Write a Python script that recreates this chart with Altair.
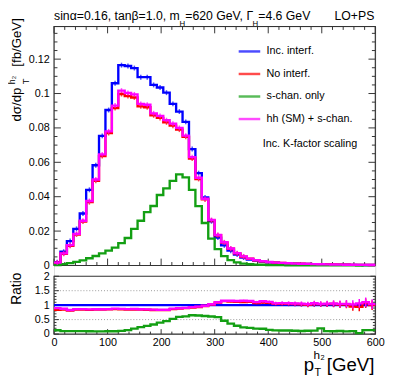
import altair as alt
import pandas as pd

# ---------------- data ----------------
BIN_WIDTH = 12
N_BINS = 50
edges = [i * BIN_WIDTH for i in range(N_BINS + 1)]
centers = [e + BIN_WIDTH / 2 for e in edges[:-1]]

series_names = ["Inc. interf.", "No interf.", "s-chan. only", "hh (SM) + s-chan."]
series_colors = ["#0000ff", "#ff0000", "#139f13", "#ff00ff"]

inc_interf = [0.0019, 0.0080, 0.0142, 0.0213, 0.0302, 0.0440, 0.0583, 0.0754, 0.0904, 0.1060,
              0.1165, 0.1160, 0.1148, 0.1095, 0.1095, 0.1050, 0.1035, 0.1005, 0.0940, 0.0895,
              0.0835, 0.0677, 0.0537, 0.0396, 0.0257, 0.0162, 0.0117, 0.0086, 0.0063, 0.0046,
              0.0035, 0.0028, 0.0022, 0.0018, 0.0016, 0.0014, 0.00122, 0.00104, 0.00095, 0.00087,
              0.00075, 0.00067, 0.00059, 0.00052, 0.00048, 0.00043, 0.00039, 0.00034, 0.00029, 0.00029]

no_interf = [0.0016, 0.0068, 0.0115, 0.0180, 0.0255, 0.0368, 0.0492, 0.0636, 0.0770, 0.0915,
             0.0997, 0.0985, 0.0977, 0.0925, 0.0920, 0.0873, 0.0858, 0.0832, 0.0813, 0.0790,
             0.0748, 0.0622, 0.0503, 0.0384, 0.0262, 0.0176, 0.0133, 0.0097, 0.0070, 0.0051,
             0.0039, 0.0030, 0.0024, 0.00195, 0.00167, 0.00147, 0.00128, 0.00108, 0.00098, 0.00088,
             0.00078, 0.00069, 0.00061, 0.00054, 0.00049, 0.00044, 0.00037, 0.00032, 0.00031, 0.00029]

s_chan_only = [0.00025, 0.0008, 0.0014, 0.0021, 0.0030, 0.0042, 0.0055, 0.0070, 0.0086, 0.0104,
               0.0130, 0.0160, 0.0213, 0.0260, 0.0310, 0.0346, 0.0410, 0.0448, 0.0492, 0.0530,
               0.0512, 0.0440, 0.0345, 0.0247, 0.0156, 0.0095, 0.0054, 0.0031, 0.0018, 0.00106,
               0.00074, 0.00052, 0.0004, 0.00026, 0.0002, 0.00017, 0.00015, 0.00012, 0.0001, 0.0001,
               0.00009, 0.00013, 0.00006, 0.00005, 0.00005, 0.00004, 0.00004, 0.00001, 0.00004, 0.00004]

hh_sm_s_chan = [0.0017, 0.0070, 0.0118, 0.0184, 0.0260, 0.0375, 0.0500, 0.0646, 0.0780, 0.0930,
                0.1017, 0.1003, 0.0995, 0.0940, 0.0935, 0.0885, 0.0870, 0.0845, 0.0825, 0.0800,
                0.0755, 0.0630, 0.0510, 0.0388, 0.0265, 0.0178, 0.0135, 0.0099, 0.0072, 0.0053,
                0.0040, 0.0031, 0.0025, 0.0020, 0.0017, 0.0015, 0.0013, 0.0011, 0.0010, 0.0009,
                0.0008, 0.0007, 0.00062, 0.00055, 0.0005, 0.00045, 0.0004, 0.00036, 0.00032, 0.0003]

ratio_err_inc = [0.02, 0.01, 0.01, 0.01, 0.01, 0.01, 0.01, 0.01, 0.01, 0.01,
                 0.01, 0.01, 0.01, 0.01, 0.01, 0.01, 0.01, 0.01, 0.01, 0.01,
                 0.01, 0.01, 0.01, 0.01, 0.01, 0.012, 0.014, 0.016, 0.018, 0.02,
                 0.022, 0.024, 0.026, 0.028, 0.03, 0.032, 0.035, 0.038, 0.04, 0.043,
                 0.046, 0.05, 0.054, 0.058, 0.062, 0.066, 0.07, 0.075, 0.08, 0.085]
ratio_err_hh = [0.03, 0.02, 0.02, 0.015, 0.01, 0.01, 0.01, 0.01, 0.01, 0.01,
                0.01, 0.01, 0.01, 0.01, 0.01, 0.01, 0.01, 0.01, 0.01, 0.01,
                0.01, 0.012, 0.014, 0.016, 0.02, 0.022, 0.025, 0.028, 0.03, 0.033,
                0.036, 0.04, 0.045, 0.05, 0.055, 0.06, 0.065, 0.07, 0.075, 0.08,
                0.085, 0.09, 0.1, 0.11, 0.12, 0.13, 0.14, 0.15, 0.16, 0.17]

x_major = [0, 100, 200, 300, 400, 500, 600]
x_minor = [v for v in range(0, 601, 20) if v % 100 != 0]
y_main_major = [0, 0.02, 0.04, 0.06, 0.08, 0.1, 0.12]
y_main_minor = [round(0.005 * i, 3) for i in range(1, 28) if i % 4 != 0]
y_ratio_major = [0, 0.5, 1, 1.5, 2]
y_ratio_minor = [round(0.1 * i, 1) for i in range(1, 20) if i % 5 != 0]
ratio_grid = [0.5, 1.0, 1.5]

# ---------------- layout constants ----------------
W = 328
H = 314
Y_MAX = 0.139
FONT = "Liberation Sans"
FRAME = "#333333"

xs = alt.Scale(domain=[0, 600], nice=False, zero=False)
ys_main = alt.Scale(domain=[0, Y_MAX], range=[244, 0], nice=False, zero=False)
ys_ratio = alt.Scale(domain=[0, 2], range=[314, 255], nice=False, zero=False)

all_series = [inc_interf, no_interf, s_chan_only, hh_sm_s_chan]

rows = []
for name, vals in zip(series_names, all_series):
    for i, v in enumerate(vals):
        rows.append({"series": name, "x": edges[i], "y": v, "r": v / inc_interf[i]})
    rows.append({"series": name, "x": edges[-1], "y": vals[-1], "r": vals[-1] / inc_interf[-1]})
hist = pd.DataFrame(rows)

erows = []
for name, vals in zip(series_names, all_series):
    if name == "s-chan. only":
        continue
    for i, v in enumerate(vals):
        r = v / inc_interf[i]
        e = ratio_err_inc[i] if name == "Inc. interf." else ratio_err_hh[i]
        erows.append({"series": name, "c": centers[i], "y": v, "r": r, "lo": r - e, "hi": r + e})
errs = pd.DataFrame(erows)

color_scale = alt.Scale(domain=series_names, range=series_colors)
LEG = alt.Legend(orient="none", legendX=187, legendY=13, title=None, symbolType="stroke",
                 symbolSize=484, symbolStrokeWidth=2.5, labelFontSize=11, labelFont=FONT,
                 labelOffset=5, rowPadding=5, padding=0, labelColor="black")
color = alt.Color("series:N", scale=color_scale, legend=LEG)

layers = []

# frames
frame_df = pd.DataFrame({"a": [0]})
layers.append(alt.Chart(frame_df).mark_rect(fillOpacity=0, stroke=FRAME, strokeWidth=1.2).encode(
    x=alt.XDatum(0, scale=xs, axis=None), x2=alt.X2Datum(600),
    y=alt.YDatum(0, scale=ys_main, axis=None), y2=alt.Y2Datum(Y_MAX)))
layers.append(alt.Chart(frame_df).mark_rect(fillOpacity=0, stroke=FRAME, strokeWidth=1.2).encode(
    x=alt.XDatum(0, scale=xs, axis=None), x2=alt.X2Datum(600),
    y=alt.YDatum(0, scale=ys_ratio, axis=None), y2=alt.Y2Datum(2)))

# ratio grid
layers.append(alt.Chart(pd.DataFrame({"g": ratio_grid})).mark_rule(
    color="#9a9a9a", strokeDash=[1, 2], strokeWidth=1).encode(
    x=alt.XDatum(0, scale=xs, axis=None), x2=alt.X2Datum(600),
    y=alt.Y("g:Q", scale=ys_ratio, axis=None)))


def xticks(vals, yscale, ydatum, off):
    return alt.Chart(pd.DataFrame({"v": vals})).mark_rule(
        color=FRAME, strokeWidth=1, y2Offset=off).encode(
        x=alt.X("v:Q", scale=xs, axis=None),
        y=alt.YDatum(ydatum, scale=yscale, axis=None), y2=alt.Y2Datum(ydatum))


def yticks(vals, yscale, xdatum, off):
    return alt.Chart(pd.DataFrame({"v": vals})).mark_rule(
        color=FRAME, strokeWidth=1, x2Offset=off).encode(
        y=alt.Y("v:Q", scale=yscale, axis=None),
        x=alt.XDatum(xdatum, scale=xs, axis=None), x2=alt.X2Datum(xdatum))


layers += [
    xticks(x_major, ys_main, 0, -7), xticks(x_minor, ys_main, 0, -3.5),
    xticks(x_major, ys_main, Y_MAX, 7), xticks(x_minor, ys_main, Y_MAX, 3.5),
    yticks(y_main_major, ys_main, 0, 7), yticks(y_main_minor, ys_main, 0, 3.5),
    yticks(y_main_major, ys_main, 600, -7), yticks(y_main_minor, ys_main, 600, -3.5),
    xticks(x_major, ys_ratio, 0, -5), xticks(x_minor, ys_ratio, 0, -2.5),
    yticks(y_ratio_major, ys_ratio, 0, 5), yticks(y_ratio_minor, ys_ratio, 0, 2.5),
    yticks(y_ratio_major, ys_ratio, 600, -5), yticks(y_ratio_minor, ys_ratio, 600, -2.5),
]

AX = dict(domain=False, ticks=False, grid=False, labelFontSize=11, labelFont=FONT,
          title=None, labelFlush=False, labelOverlap=False, labelColor="black")

# main histograms
for k, name in enumerate(series_names):
    yaxis = (alt.Axis(values=y_main_major, orient="left", labelPadding=5, format=".3~g", **AX)
             if k == 0 else None)
    layers.append(alt.Chart(hist).transform_filter(alt.datum.series == name).mark_line(
        interpolate="step-after", strokeWidth=2.4).encode(
        x=alt.X("x:Q", scale=xs, axis=None),
        y=alt.Y("y:Q", scale=ys_main, axis=yaxis),
        color=color))
    if name != "s-chan. only":
        layers.append(alt.Chart(errs).transform_filter(
            (alt.datum.series == name) & (alt.datum.c < 360)).mark_tick(
            orient="vertical", size=5, thickness=1.5).encode(
            x=alt.X("c:Q", scale=xs, axis=None),
            y=alt.Y("y:Q", scale=ys_main, axis=None),
            color=color))

# ratio histograms
for k, name in enumerate(series_names):
    yaxis = (alt.Axis(values=y_ratio_major, orient="left", labelPadding=5, format=".3~g", **AX)
             if k == 0 else None)
    xaxis = (alt.Axis(values=x_major, orient="bottom", labelPadding=3, format="d", **AX)
             if k == 0 else None)
    layers.append(alt.Chart(hist).transform_filter(alt.datum.series == name).mark_line(
        interpolate="step-after", strokeWidth=2.4).encode(
        x=alt.X("x:Q", scale=xs, axis=xaxis),
        y=alt.Y("r:Q", scale=ys_ratio, axis=yaxis),
        color=color))
    if name != "s-chan. only":
        layers.append(alt.Chart(errs).transform_filter(alt.datum.series == name).mark_rule(
            strokeWidth=1.5).encode(
            x=alt.X("c:Q", scale=xs, axis=None),
            y=alt.Y("lo:Q", scale=ys_ratio, axis=None), y2="hi:Q",
            color=color))


# texts
def txt(s, x, y, size, align="left", angle=0, baseline="alphabetic"):
    return alt.Chart(frame_df).mark_text(
        text=s, align=align, baseline=baseline, fontSize=size, font=FONT, angle=angle,
        color="black").encode(x=alt.value(x), y=alt.value(y))


layers += [
    txt("sinα=0.16, tanβ=1.0, m", 0, -7, 12.5),
    txt("H", 128, -0.5, 8),
    txt("=620 GeV, Γ", 134, -7, 12.5),
    txt("H", 202.5, -0.5, 8),
    txt("=4.6 GeV", 208.5, -7, 12.5),
    txt("LO+PS", 327, -7, 12.5, align="right"),
    txt("dσ/dp", -34, 97, 13.5, angle=270),
    txt("T", -26, 59, 9.5, angle=270),
    txt("h₂", -40, 59, 9, angle=270),
    txt("[fb/GeV]", -34, 41, 13.5, angle=270),
    txt("Ratio", -34, 284, 14, angle=270),
    txt("p", 255, 352, 19),
    txt("T", 266, 357, 11),
    txt("h₂", 265, 339, 12),
    txt("[GeV]", 327, 352, 19, align="right"),
    txt("Inc. K-factor scaling", 213, 120, 11, baseline="middle"),
]

chart = alt.layer(*layers).resolve_scale(y="independent").resolve_axis(
    x="independent", y="independent").properties(
    width=W, height=H,
    padding={"left": 47, "top": 15, "right": 16, "bottom": 40},
    autosize=alt.AutoSizeParams(type="none"),
).configure_view(stroke=None).configure(font=FONT)

chart.save("out.html", embed_options={"renderer": "svg", "actions": False})
